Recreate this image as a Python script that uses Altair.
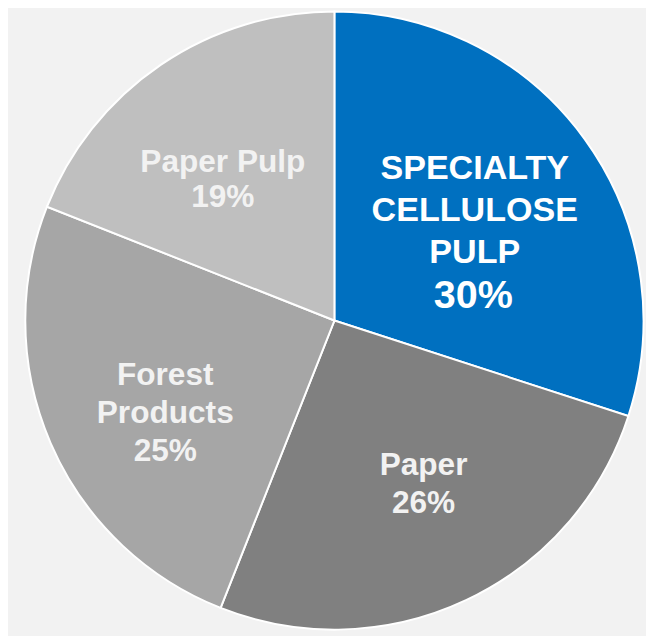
import altair as alt
import pandas as pd

segments = ["Specialty Cellulose Pulp", "Paper", "Forest Products", "Paper Pulp"]
shares = [30, 26, 25, 19]
name_lines = ["SPECIALTY\nCELLULOSE\nPULP", "Paper", "Forest\nProducts", "Paper Pulp"]
pct_labels = ["30%", "26%", "25%", "19%"]
colors = ["#0070C0", "#808080", "#A6A6A6", "#BFBFBF"]

df = pd.DataFrame({
    "idx": list(range(len(segments))),
    "segment": segments,
    "share": shares,
    "name": name_lines,
    "pct": pct_labels,
})
df["full"] = df["name"] + "\n" + df["pct"]

CX, CY = 330.5, 312.5
FONT = "Liberation Sans"

base = alt.Chart(df).encode(
    theta=alt.Theta("share:Q", stack=True),
    order=alt.Order("idx:Q"),
    x=alt.value(CX),
    y=alt.value(CY),
)

arc = base.mark_arc(outerRadius=313, stroke="white", strokeWidth=2).encode(
    color=alt.Color("segment:N", scale=alt.Scale(domain=segments, range=colors), legend=None)
)

def label_layer(i, field, radius, dx, dy, size, line_height, color):
    return base.transform_calculate(
        t=f"datum.idx == {i} ? datum.{field} : ''"
    ).mark_text(
        radius=radius, dx=dx, dy=dy, fontSize=size, lineHeight=line_height,
        font=FONT, fontWeight="bold", color=color, align="center",
        baseline="middle", lineBreak="\n",
    ).encode(text="t:N")

layers = [
    arc,
    label_layer(0, "name", 167, 7, -55.5, 34.5, 42.5, "#FFFFFF"),
    label_layer(0, "pct", 167, 5.5, 73.5, 40, 40, "#FFFFFF"),
    label_layer(1, "full", 185, 11.5, -21, 32, 38.5, "#F2F2F2"),
    label_layer(2, "full", 185, -1.5, -18.5, 32, 38.5, "#F2F2F2"),
    label_layer(3, "full", 185, -9, -7.5, 32, 36, "#F2F2F2"),
]

chart = alt.layer(*layers).properties(
    width=646, height=628, padding=0,
    autosize=alt.AutoSizeParams(type="none"),
    background="#F2F2F2",
).configure_view(stroke=None)

chart.save("out.html", embed_options={"renderer": "svg", "actions": False})
